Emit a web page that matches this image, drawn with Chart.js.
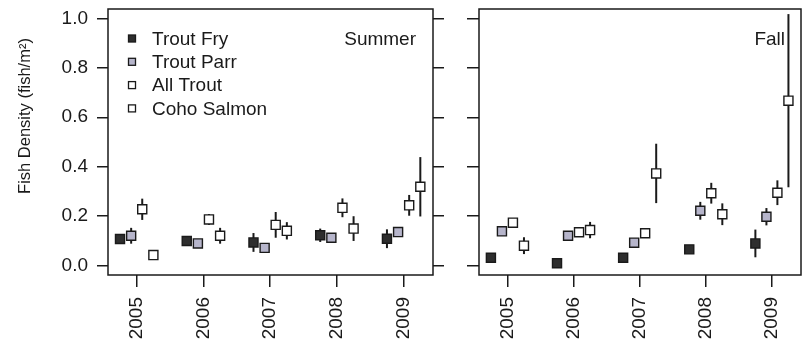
<!DOCTYPE html>
<html>
<head>
<meta charset="utf-8">
<script src="https://cdn.jsdelivr.net/npm/chart.js@4.4.1/dist/chart.umd.min.js"></script>
<style>
  body { margin: 0; background: #fff; }
  #wrap { position: relative; width: 803px; height: 347px; }
  canvas { position: absolute; top: 0; }
</style>
</head>
<body>
<div id="wrap">
  <canvas id="summerChart" width="455" height="347" style="left:0"></canvas>
  <canvas id="fallChart" width="348" height="347" style="left:455px"></canvas>
</div>
<script>
const years = ['2005', '2006', '2007', '2008', '2009'];
const seriesNames = ['Trout Fry', 'Trout Parr', 'All Trout', 'Coho Salmon'];
const yTicks = [0.0, 0.2, 0.4, 0.6, 0.8, 1.0];

// summer densities (fish/m2) and +/- error
const summerFry = [0.108, 0.100, 0.094, 0.123, 0.109];
const summerFryErr = [0.01, 0.01, 0.038, 0.027, 0.038];
const summerParr = [0.121, 0.090, 0.072, 0.113, 0.136];
const summerParrErr = [0.032, 0.01, 0.01, 0.01, 0.01];
const summerAll = [0.228, 0.187, 0.165, 0.234, 0.244];
const summerAllErr = [0.043, 0.022, 0.052, 0.038, 0.042];
const summerCoho = [0.043, 0.121, 0.141, 0.150, 0.319];
const summerCohoErr = [0, 0.032, 0.035, 0.05, 0.12];

// fall
const fallFry = [0.032, 0.010, 0.032, 0.066, 0.090];
const fallFryErr = [0, 0, 0, 0.01, 0.056];
const fallParr = [0.139, 0.121, 0.093, 0.222, 0.198];
const fallParrErr = [0.01, 0.01, 0.01, 0.036, 0.035];
const fallAll = [0.174, 0.135, 0.131, 0.293, 0.295];
const fallAllErr = [0.01, 0.01, 0.01, 0.042, 0.05];
const fallCoho = [0.081, 0.144, 0.373, 0.208, 0.667];
const fallCohoErr = [0.034, 0.033, 0.12, 0.044, 0.35];

const offsets = [-0.25, -0.083, 0.083, 0.25];
const fills = ['#2e2e2e', '#b6b5cb', '#ffffff', '#ffffff'];
const ink = '#1a1a1a';

Chart.defaults.font.family = "'Liberation Sans', Arial, sans-serif";
Chart.defaults.color = ink;

function makeDatasets(values, errors) {
    return values.map((vals, s) => ({
        label: seriesNames[s],
        data: vals.map((v, i) => ({ x: i + offsets[s], y: v, err: errors[s][i] })),
        pointStyle: 'rect',
        pointRadius: 6.4,
        pointHoverRadius: 6.4,
        backgroundColor: fills[s],
        borderColor: ink,
        borderWidth: 1.4,
        showLine: false
    }));
}

const errorBars = {
    id: 'errorBars',
    beforeDatasetsDraw(chart) {
        const ctx = chart.ctx;
        const xs = chart.scales.x, ys = chart.scales.y;
        ctx.save();
        ctx.strokeStyle = ink;
        ctx.lineWidth = 2;
        chart.data.datasets.forEach(ds => {
            ds.data.forEach(p => {
                if (!p.err) return;
                const px = xs.getPixelForValue(p.x);
                ctx.beginPath();
                ctx.moveTo(px, ys.getPixelForValue(p.y - p.err));
                ctx.lineTo(px, ys.getPixelForValue(p.y + p.err));
                ctx.stroke();
            });
        });
        ctx.restore();
    }
};

const frame = {
    id: 'frame',
    afterDraw(chart) {
        const a = chart.chartArea, ctx = chart.ctx;
        ctx.save();
        ctx.strokeStyle = ink;
        ctx.lineWidth = 1.5;
        ctx.strokeRect(a.left, a.top, a.right - a.left, a.bottom - a.top);
        ctx.restore();
    }
};

function panelText(season, x, withLegend) {
    return {
        id: 'panelText',
        afterDraw(chart) {
            const ctx = chart.ctx;
            ctx.save();
            ctx.font = "19px 'Liberation Sans', Arial, sans-serif";
            ctx.fillStyle = ink;
            ctx.textBaseline = 'middle';
            ctx.textAlign = 'right';
            ctx.fillText(season, x, 40);
            if (withLegend) {
                ctx.textAlign = 'left';
                chart.data.datasets.forEach((ds, i) => {
                    const y = 38.5 + i * 23.3;
                    ctx.fillStyle = ds.backgroundColor;
                    ctx.strokeStyle = ink;
                    ctx.lineWidth = 1.3;
                    ctx.fillRect(128.5, y - 3.5, 7, 7);
                    ctx.strokeRect(128.5, y - 3.5, 7, 7);
                    ctx.fillStyle = ink;
                    ctx.fillText(ds.label, 152, y + 1);
                });
                // y axis title
                ctx.translate(25, 116);
                ctx.rotate(-Math.PI / 2);
                ctx.textAlign = 'center';
                ctx.font = "16.5px 'Liberation Sans', Arial, sans-serif";
                ctx.fillText('Fish Density (fish/m²)', 0, 0);
            }
            ctx.restore();
        }
    };
}

function axisOptions(showYLabels, leftWidth, rightWidth) {
    const gridLine = { drawOnChartArea: false, drawTicks: true, color: ink, lineWidth: 1.5 };
    const scales = {
        x: {
            type: 'linear', min: -0.43, max: 4.44,
            afterBuildTicks: s => { s.ticks = years.map((y, i) => ({ value: i })); },
            afterFit: s => { s.height = 72; s.paddingLeft = 0; s.paddingRight = 0; },
            ticks: {
                autoSkip: false, minRotation: 90, maxRotation: 90, padding: 10,
                font: { size: 19 }, color: ink,
                callback: v => years[v]
            },
            grid: Object.assign({ tickLength: 12 }, gridLine),
            border: { display: false }
        },
        y: {
            type: 'linear', min: -0.0376, max: 1.0376,
            afterBuildTicks: s => { s.ticks = yTicks.map(v => ({ value: v })); },
            afterFit: s => { s.width = leftWidth; s.paddingTop = 0; s.paddingBottom = 0; },
            ticks: {
                display: showYLabels, padding: 9, font: { size: 19 }, color: ink,
                callback: v => v.toFixed(1)
            },
            grid: Object.assign({ tickLength: showYLabels ? 11 : 12 }, gridLine),
            border: { display: false }
        }
    };
    if (rightWidth) {
        scales.y2 = {
            type: 'linear', position: 'right', min: -0.0376, max: 1.0376,
            afterBuildTicks: s => { s.ticks = yTicks.map(v => ({ value: v })); },
            afterFit: s => { s.width = rightWidth; },
            ticks: { display: false },
            grid: Object.assign({ tickLength: 11 }, gridLine),
            border: { display: false }
        };
    }
    return scales;
}

function createChart(id, datasets, scales, padding, extra) {
    return new Chart(document.getElementById(id), {
        type: 'scatter',
        data: { datasets: datasets },
        options: {
            responsive: false,
            animation: false,
            devicePixelRatio: 1,
            layout: { padding: padding, autoPadding: false },
            scales: scales,
            plugins: { legend: { display: false }, tooltip: { enabled: false } }
        },
        plugins: [errorBars, frame, extra]
    });
}

createChart('summerChart',
    makeDatasets([summerFry, summerParr, summerAll, summerCoho],
                 [summerFryErr, summerParrErr, summerAllErr, summerCohoErr]),
    axisOptions(true, 108, 22),
    { top: 9, right: 0, left: 0, bottom: 0 },
    panelText('Summer', 416, true));

createChart('fallChart',
    makeDatasets([fallFry, fallParr, fallAll, fallCoho],
                 [fallFryErr, fallParrErr, fallAllErr, fallCohoErr]),
    axisOptions(false, 24, 0),
    { top: 9, right: 2, left: 0, bottom: 0 },
    panelText('Fall', 330, false));
</script>
</body>
</html>
